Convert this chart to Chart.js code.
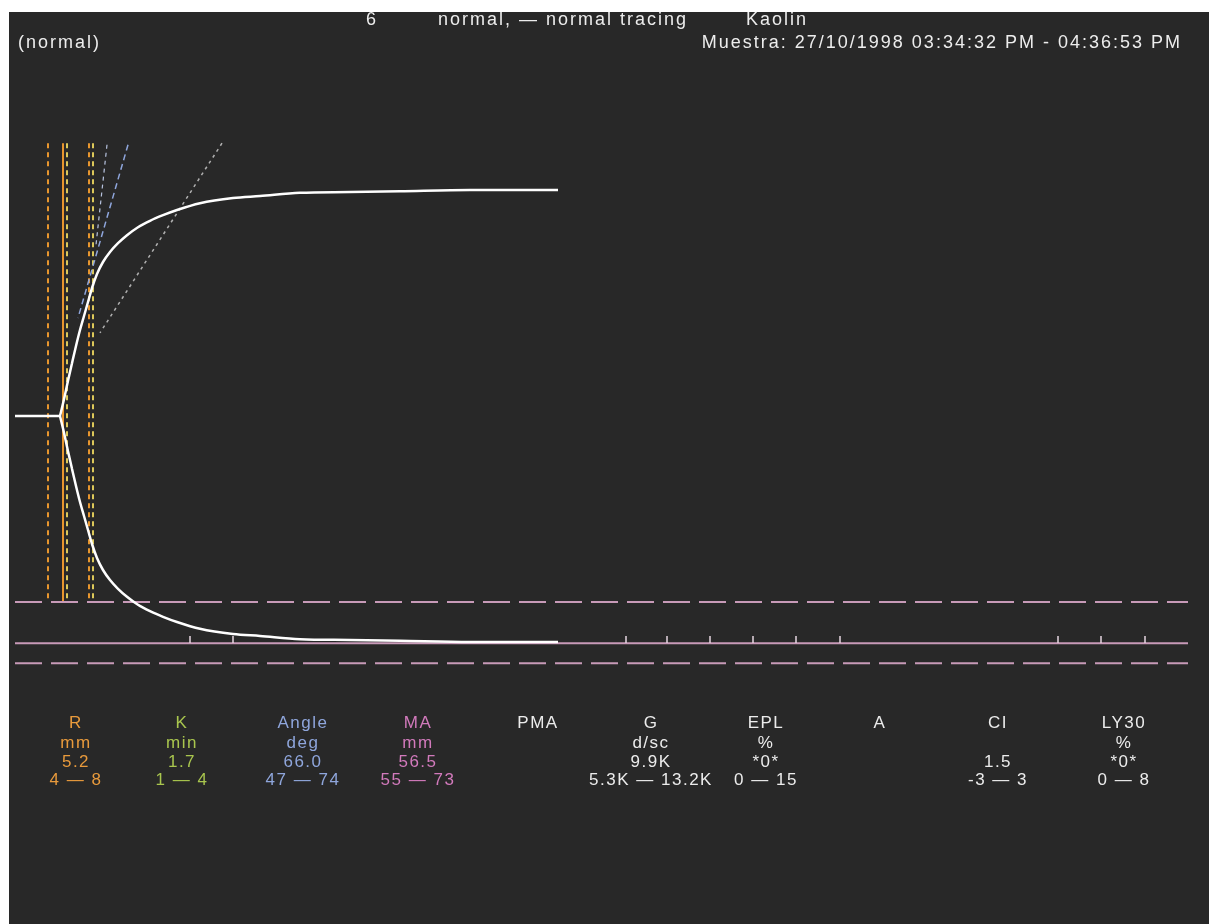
<!DOCTYPE html>
<html lang="es">
<head>
  <meta charset="UTF-8">
  <title>TEG - normal tracing</title>
  <script src="https://cdn.jsdelivr.net/npm/chart.js"></script>
  <style>
    html, body {
      margin: 0;
      padding: 0;
      background: #ffffff;
    }
    body {
      width: 1209px;
      height: 924px;
      position: relative;
      overflow: hidden;
      font-family: "Liberation Sans", Arial, sans-serif;
    }
    #panel {
      position: absolute;
      left: 9px;
      top: 12px;
      width: 1200px;
      height: 912px;
      background: #282828;
    }
    #tegChart {
      position: absolute;
      left: 0;
      top: 0;
    }
    .txt {
      position: absolute;
      color: #ededed;
      font-size: 18px;
      letter-spacing: 2px;
      white-space: nowrap;
      line-height: 1;
      transform: translateY(-50%);
    }
    .cell {
      position: absolute;
      font-size: 17px;
      letter-spacing: 1.5px;
      white-space: nowrap;
      line-height: 1;
      transform: translate(-50%, -50%);
    }
  </style>
</head>
<body>
  <div id="panel"></div>
  <canvas id="tegChart" width="1209" height="924"></canvas>

  <!-- Cabecera -->
  <div class="txt" style="left:366px; top:19px;">6</div>
  <div class="txt" style="left:438px; top:19px;">normal, — normal tracing</div>
  <div class="txt" style="left:746px; top:19px;">Kaolin</div>
  <div class="txt" style="left:18px; top:42px;">(normal)</div>
  <div class="txt" style="right:27px; top:42px;">Muestra: 27/10/1998 03:34:32 PM - 04:36:53 PM</div>

  <div id="tabla"></div>

  <script>
    const baseTime = [0.7, 5.2];
    const traceTime = [5.2, 5.6, 6.0, 6.4, 6.8, 7.2, 7.6, 8.0, 8.4, 8.9, 9.5, 10.2, 11.0, 11.9, 13.0, 14.2, 15.5, 16.9, 19.2, 22.5, 25.2, 29.2, 34.2, 39.2, 46.2, 55.0];
    const traceAmp  = [0, 2.1, 4.4, 6.6, 8.75, 10.75, 12.5, 14.25, 16.0, 17.75, 19.25, 20.5, 21.6, 22.6, 23.6, 24.4, 25.1, 25.75, 26.6, 27.25, 27.5, 27.9, 28.0, 28.1, 28.25, 28.25];

    // lineas de referencia
    const rDashed = [4.0, 8.1];
    const rSolid = 5.5;
    const kDashed = [5.9, 8.5];
    const markerTop = 34.1;
    const markerBottom = -23.25;
    const maLimitHigh = -23.25;
    const maLine = -28.4;
    const maLimitLow = -30.9;
    const lineStart = 0.7;
    const lineEnd = 118.0;
    const tickTimes = [18.2, 22.5, 61.8, 65.9, 70.2, 74.5, 78.8, 83.2, 105.0, 109.3, 113.7];

    // tangentes (angulo)
    const angleLine = [[12.0, 33.9], [7.0, 12.25]];
    const angleLine2 = [[9.9, 33.9], [8.8, 21.4]];
    const slopeLine = [[21.4, 34.1], [9.2, 10.4]];

    // tabla de resultados
    const colNames  = ['R', 'K', 'Angle', 'MA', 'PMA', 'G', 'EPL', 'A', 'CI', 'LY30'];
    const colUnits  = ['mm', 'min', 'deg', 'mm', '', 'd/sc', '%', '', '', '%'];
    const colValues = ['5.2', '1.7', '66.0', '56.5', '', '9.9K', '*0*', '', '1.5', '*0*'];
    const colRanges = ['4 — 8', '1 — 4', '47 — 74', '55 — 73', '', '5.3K — 13.2K', '0 — 15', '', '-3 — 3', '0 — 8'];

    const colX = [76, 182, 303, 418, 538, 651, 766, 880, 998, 1124];
    const rowY = [722, 742, 761, 779];
    const colColor = ['#e89a3c', '#a9c64e', '#8fa6dc', '#d27abc', '#ececec', '#ececec', '#ececec', '#ececec', '#ececec', '#ececec'];

    const tabla = document.getElementById('tabla');
    [colNames, colUnits, colValues, colRanges].forEach((row, r) => {
      row.forEach((txt, c) => {
        if (!txt) return;
        const d = document.createElement('div');
        d.className = 'cell';
        d.style.left = colX[c] + 'px';
        d.style.top = rowY[r] + 'px';
        d.style.color = colColor[c];
        d.textContent = txt;
        tabla.appendChild(d);
      });
    });

    const orange = '#e8962e';
    const yellow = '#dcc85a';
    const pink = '#c89ab8';

    const vline = (x, color, dash, width) => ({
      data: [{ x: x, y: markerTop }, { x: x, y: markerBottom }],
      borderColor: color, borderWidth: width || 2, borderDash: dash
    });
    const hline = (y, dash, width) => ({
      data: [{ x: lineStart, y: y }, { x: lineEnd, y: y }],
      borderColor: pink, borderWidth: width || 2, borderDash: dash
    });
    const seg = (pts, color, dash, width) => ({
      data: pts.map(p => ({ x: p[0], y: p[1] })),
      borderColor: color, borderWidth: width || 1.5, borderDash: dash
    });

    const datasets = [
      // trazado (primero = se dibuja encima)
      { data: baseTime.map(t => ({ x: t, y: 0 })), borderColor: '#ffffff', borderWidth: 2.5 },
      { data: traceTime.map((t, i) => ({ x: t, y: traceAmp[i] })), borderColor: '#ffffff', borderWidth: 2.5, cubicInterpolationMode: 'monotone' },
      { data: traceTime.map((t, i) => ({ x: t, y: -traceAmp[i] })), borderColor: '#ffffff', borderWidth: 2.5, cubicInterpolationMode: 'monotone' },
      // marcas de escala
      {
        data: tickTimes.map(t => ({ x: t, y: maLine + 0.45 })),
        showLine: false, pointStyle: 'line', pointRotation: 90, pointRadius: 3.5,
        pointBorderColor: '#e6d6e0', pointBorderWidth: 1.5, borderColor: '#e6d6e0'
      },
      hline(maLine, [], 2),
      hline(maLimitHigh, [27, 9], 2),
      hline(maLimitLow, [27, 9], 2),
      seg(angleLine, '#8fa6dc', [6, 4], 1.5),
      seg(angleLine2, '#b8c4e0', [4, 4], 1.2),
      seg(slopeLine, '#b0b0b0', [3, 4], 1.5),
      vline(rSolid, orange, [], 2),
      vline(kDashed[0], yellow, [5, 4]),
      vline(kDashed[1], yellow, [5, 4]),
      vline(rDashed[0], orange, [5, 4]),
      vline(rDashed[1], orange, [5, 4])
    ].map(d => Object.assign({ pointRadius: 0, fill: false, tension: 0 }, d));

    new Chart(document.getElementById('tegChart'), {
      type: 'line',
      data: { datasets: datasets },
      options: {
        responsive: false,
        animation: false,
        devicePixelRatio: 1,
        layout: { padding: { left: 8, right: 19, top: 96, bottom: 228 } },
        plugins: { legend: { display: false }, tooltip: { enabled: false }, title: { display: false } },
        scales: {
          x: { type: 'linear', min: 0, max: 118.2, display: false },
          y: { type: 'linear', min: -35, max: 40, display: false }
        }
      }
    });
  </script>
</body>
</html>
